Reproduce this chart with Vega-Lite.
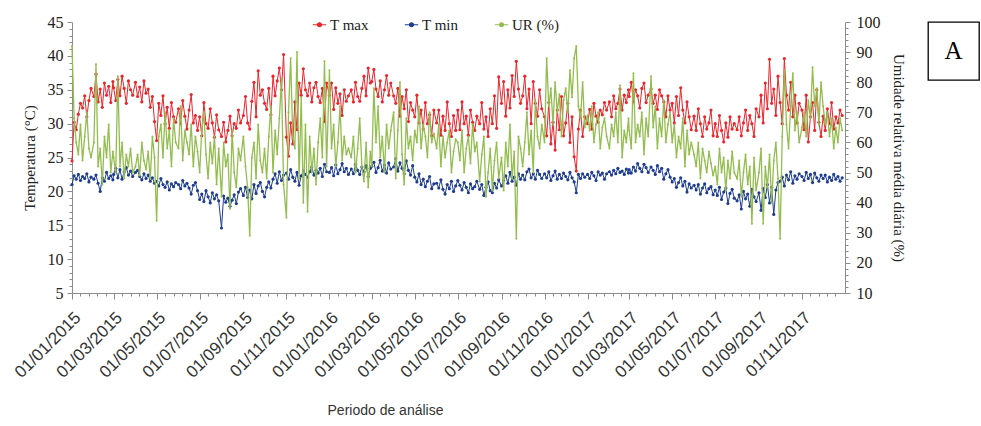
{
"$schema":"https://vega.github.io/schema/vega-lite/v6.json",
"background":"white",
"padding":{"left":11,"top":14,"right":0,"bottom":0},
"config":{"view":{"stroke":null},"axis":{"grid":false,"domainColor":"#8c8c8c","tickColor":"#8c8c8c","labelColor":"#222","titleColor":"#222","titleFontWeight":"normal"}},
"spacing":83,
"bounds":"flush",
"hconcat":[
{
"width":773,"height":271,
"data":{"values":[
{"d":"2015-01-01","tmax":24.5,"tmin":21.0,"ur":92},{"d":"2015-01-04","tmax":30.2,"tmin":22.3,"ur":68},{"d":"2015-01-07","tmax":29.1,"tmin":21.8,"ur":60},{"d":"2015-01-10","tmax":31.4,"tmin":22.5,"ur":56},{"d":"2015-01-13","tmax":33.0,"tmin":21.6,"ur":66},{"d":"2015-01-16","tmax":32.3,"tmin":22.2,"ur":54},{"d":"2015-01-19","tmax":34.1,"tmin":21.9,"ur":62},{"d":"2015-01-22","tmax":31.0,"tmin":22.6,"ur":70},{"d":"2015-01-25","tmax":33.4,"tmin":21.4,"ur":58},{"d":"2015-01-28","tmax":35.2,"tmin":22.1,"ur":55},
{"d":"2015-02-01","tmax":34.0,"tmin":21.8,"ur":60},{"d":"2015-02-04","tmax":37.3,"tmin":22.4,"ur":86},{"d":"2015-02-07","tmax":33.2,"tmin":21.2,"ur":52},{"d":"2015-02-10","tmax":35.1,"tmin":20.0,"ur":58},{"d":"2015-02-13","tmax":32.4,"tmin":22.0,"ur":46},{"d":"2015-02-16","tmax":36.0,"tmin":21.5,"ur":62},{"d":"2015-02-19","tmax":34.2,"tmin":22.8,"ur":55},{"d":"2015-02-22","tmax":35.5,"tmin":21.9,"ur":66},{"d":"2015-02-25","tmax":33.1,"tmin":22.3,"ur":50},{"d":"2015-02-28","tmax":36.2,"tmin":21.7,"ur":57},
{"d":"2015-03-01","tmax":35.3,"tmin":22.5,"ur":55},{"d":"2015-03-04","tmax":33.4,"tmin":23.4,"ur":50},{"d":"2015-03-07","tmax":36.5,"tmin":22.0,"ur":82},{"d":"2015-03-10","tmax":34.1,"tmin":23.2,"ur":52},{"d":"2015-03-13","tmax":37.0,"tmin":21.8,"ur":60},{"d":"2015-03-16","tmax":35.2,"tmin":22.9,"ur":48},{"d":"2015-03-19","tmax":33.0,"tmin":23.5,"ur":56},{"d":"2015-03-22","tmax":36.3,"tmin":22.4,"ur":52},{"d":"2015-03-25","tmax":35.0,"tmin":23.0,"ur":58},{"d":"2015-03-28","tmax":34.2,"tmin":22.2,"ur":50},
{"d":"2015-04-01","tmax":36.1,"tmin":22.8,"ur":52},{"d":"2015-04-04","tmax":34.0,"tmin":23.1,"ur":56},{"d":"2015-04-07","tmax":35.4,"tmin":22.2,"ur":49},{"d":"2015-04-10","tmax":33.2,"tmin":21.7,"ur":60},{"d":"2015-04-13","tmax":36.3,"tmin":22.6,"ur":54},{"d":"2015-04-16","tmax":34.5,"tmin":21.9,"ur":51},{"d":"2015-04-19","tmax":35.1,"tmin":22.4,"ur":57},{"d":"2015-04-22","tmax":32.4,"tmin":21.5,"ur":48},{"d":"2015-04-25","tmax":34.0,"tmin":22.0,"ur":62},{"d":"2015-04-28","tmax":30.3,"tmin":21.2,"ur":55},
{"d":"2015-05-01","tmax":27.5,"tmin":21.5,"ur":34},{"d":"2015-05-04","tmax":33.0,"tmin":20.8,"ur":62},{"d":"2015-05-07","tmax":31.2,"tmin":21.9,"ur":66},{"d":"2015-05-10","tmax":34.1,"tmin":21.0,"ur":55},{"d":"2015-05-13","tmax":30.0,"tmin":20.6,"ur":70},{"d":"2015-05-16","tmax":32.4,"tmin":21.4,"ur":58},{"d":"2015-05-19","tmax":29.3,"tmin":20.2,"ur":64},{"d":"2015-05-22","tmax":33.1,"tmin":21.1,"ur":52},{"d":"2015-05-25","tmax":31.0,"tmin":20.7,"ur":68},{"d":"2015-05-28","tmax":30.2,"tmin":21.3,"ur":60},
{"d":"2015-06-01","tmax":32.2,"tmin":21.0,"ur":58},{"d":"2015-06-04","tmax":30.0,"tmin":20.4,"ur":72},{"d":"2015-06-07","tmax":33.4,"tmin":21.6,"ur":54},{"d":"2015-06-10","tmax":31.1,"tmin":20.8,"ur":64},{"d":"2015-06-13","tmax":29.2,"tmin":21.2,"ur":60},{"d":"2015-06-16","tmax":32.0,"tmin":20.5,"ur":56},{"d":"2015-06-19","tmax":34.3,"tmin":19.6,"ur":66},{"d":"2015-06-22","tmax":30.1,"tmin":20.9,"ur":52},{"d":"2015-06-25","tmax":31.2,"tmin":21.3,"ur":62},{"d":"2015-06-28","tmax":29.0,"tmin":20.1,"ur":57},
{"d":"2015-07-01","tmax":31.0,"tmin":18.8,"ur":50},{"d":"2015-07-04","tmax":28.2,"tmin":19.6,"ur":64},{"d":"2015-07-07","tmax":33.1,"tmin":18.5,"ur":70},{"d":"2015-07-10","tmax":30.0,"tmin":20.1,"ur":56},{"d":"2015-07-13","tmax":29.3,"tmin":19.2,"ur":48},{"d":"2015-07-16","tmax":32.2,"tmin":18.3,"ur":60},{"d":"2015-07-19","tmax":30.1,"tmin":19.8,"ur":53},{"d":"2015-07-22","tmax":28.0,"tmin":18.9,"ur":62},{"d":"2015-07-25","tmax":31.3,"tmin":19.5,"ur":46},{"d":"2015-07-28","tmax":29.1,"tmin":18.6,"ur":58},
{"d":"2015-08-01","tmax":28.1,"tmin":14.6,"ur":42},{"d":"2015-08-04","tmax":30.2,"tmin":19.3,"ur":60},{"d":"2015-08-07","tmax":27.3,"tmin":18.4,"ur":52},{"d":"2015-08-10","tmax":29.0,"tmin":19.0,"ur":56},{"d":"2015-08-13","tmax":31.1,"tmin":17.8,"ur":38},{"d":"2015-08-16","tmax":28.2,"tmin":18.7,"ur":64},{"d":"2015-08-19","tmax":30.0,"tmin":19.5,"ur":50},{"d":"2015-08-22","tmax":29.3,"tmin":18.2,"ur":45},{"d":"2015-08-25","tmax":32.0,"tmin":19.9,"ur":58},{"d":"2015-08-28","tmax":30.1,"tmin":20.4,"ur":54},
{"d":"2015-09-01","tmax":31.2,"tmin":19.4,"ur":62},{"d":"2015-09-04","tmax":34.0,"tmin":20.6,"ur":52},{"d":"2015-09-07","tmax":30.1,"tmin":19.1,"ur":45},{"d":"2015-09-10","tmax":29.2,"tmin":20.2,"ur":29},{"d":"2015-09-13","tmax":33.3,"tmin":18.9,"ur":55},{"d":"2015-09-16","tmax":36.1,"tmin":21.0,"ur":60},{"d":"2015-09-19","tmax":31.0,"tmin":19.7,"ur":48},{"d":"2015-09-22","tmax":37.8,"tmin":20.8,"ur":66},{"d":"2015-09-25","tmax":34.2,"tmin":21.3,"ur":54},{"d":"2015-09-28","tmax":35.0,"tmin":20.0,"ur":50},
{"d":"2015-10-01","tmax":33.0,"tmin":19.2,"ur":58},{"d":"2015-10-04","tmax":32.1,"tmin":20.6,"ur":48},{"d":"2015-10-07","tmax":35.2,"tmin":21.4,"ur":62},{"d":"2015-10-10","tmax":31.3,"tmin":20.5,"ur":72},{"d":"2015-10-13","tmax":37.0,"tmin":21.8,"ur":50},{"d":"2015-10-16","tmax":34.1,"tmin":22.6,"ur":64},{"d":"2015-10-19","tmax":36.3,"tmin":21.2,"ur":56},{"d":"2015-10-22","tmax":38.2,"tmin":22.9,"ur":68},{"d":"2015-10-25","tmax":35.0,"tmin":21.6,"ur":81},{"d":"2015-10-28","tmax":40.2,"tmin":22.4,"ur":46},
{"d":"2015-11-01","tmax":28.0,"tmin":22.7,"ur":35},{"d":"2015-11-04","tmax":25.2,"tmin":21.8,"ur":70},{"d":"2015-11-07","tmax":30.1,"tmin":23.2,"ur":88},{"d":"2015-11-10","tmax":27.0,"tmin":22.1,"ur":62},{"d":"2015-11-13","tmax":33.2,"tmin":21.5,"ur":58},{"d":"2015-11-16","tmax":29.1,"tmin":22.8,"ur":90},{"d":"2015-11-19","tmax":36.0,"tmin":20.9,"ur":48},{"d":"2015-11-22","tmax":34.2,"tmin":22.3,"ur":75},{"d":"2015-11-25","tmax":38.1,"tmin":23.0,"ur":40},{"d":"2015-11-28","tmax":35.0,"tmin":22.5,"ur":66},
{"d":"2015-12-01","tmax":34.1,"tmin":22.1,"ur":37},{"d":"2015-12-04","tmax":36.0,"tmin":22.9,"ur":62},{"d":"2015-12-07","tmax":33.2,"tmin":23.6,"ur":50},{"d":"2015-12-10","tmax":35.3,"tmin":22.4,"ur":58},{"d":"2015-12-13","tmax":36.1,"tmin":23.1,"ur":46},{"d":"2015-12-16","tmax":34.0,"tmin":22.7,"ur":60},{"d":"2015-12-19","tmax":33.1,"tmin":23.4,"ur":68},{"d":"2015-12-22","tmax":35.2,"tmin":22.2,"ur":55},{"d":"2015-12-25","tmax":30.3,"tmin":24.0,"ur":87},{"d":"2015-12-28","tmax":36.0,"tmin":22.9,"ur":52},
{"d":"2016-01-01","tmax":34.2,"tmin":22.8,"ur":84},{"d":"2016-01-04","tmax":36.0,"tmin":23.5,"ur":58},{"d":"2016-01-07","tmax":32.1,"tmin":22.3,"ur":66},{"d":"2016-01-10","tmax":35.3,"tmin":23.9,"ur":52},{"d":"2016-01-13","tmax":33.0,"tmin":22.6,"ur":60},{"d":"2016-01-16","tmax":34.4,"tmin":23.2,"ur":72},{"d":"2016-01-19","tmax":31.2,"tmin":24.1,"ur":54},{"d":"2016-01-22","tmax":35.0,"tmin":22.9,"ur":62},{"d":"2016-01-25","tmax":33.3,"tmin":23.4,"ur":56},{"d":"2016-01-28","tmax":34.1,"tmin":22.5,"ur":58},
{"d":"2016-02-01","tmax":35.0,"tmin":23.3,"ur":55},{"d":"2016-02-04","tmax":33.2,"tmin":22.6,"ur":62},{"d":"2016-02-07","tmax":36.1,"tmin":24.0,"ur":50},{"d":"2016-02-10","tmax":34.0,"tmin":23.1,"ur":58},{"d":"2016-02-13","tmax":33.3,"tmin":22.5,"ur":68},{"d":"2016-02-16","tmax":35.2,"tmin":23.6,"ur":52},{"d":"2016-02-19","tmax":37.0,"tmin":22.9,"ur":47},{"d":"2016-02-22","tmax":34.1,"tmin":23.8,"ur":60},{"d":"2016-02-25","tmax":38.2,"tmin":22.2,"ur":45},{"d":"2016-02-28","tmax":36.0,"tmin":23.4,"ur":57},
{"d":"2016-03-01","tmax":36.2,"tmin":23.7,"ur":52},{"d":"2016-03-04","tmax":38.0,"tmin":24.3,"ur":78},{"d":"2016-03-07","tmax":35.1,"tmin":22.8,"ur":60},{"d":"2016-03-10","tmax":34.0,"tmin":23.5,"ur":72},{"d":"2016-03-13","tmax":36.3,"tmin":24.6,"ur":55},{"d":"2016-03-16","tmax":33.2,"tmin":23.0,"ur":62},{"d":"2016-03-19","tmax":35.0,"tmin":23.9,"ur":50},{"d":"2016-03-22","tmax":37.1,"tmin":22.7,"ur":66},{"d":"2016-03-25","tmax":34.2,"tmin":24.2,"ur":58},{"d":"2016-03-28","tmax":36.0,"tmin":23.3,"ur":64},
{"d":"2016-04-01","tmax":34.1,"tmin":23.6,"ur":70},{"d":"2016-04-04","tmax":33.0,"tmin":24.8,"ur":48},{"d":"2016-04-07","tmax":35.2,"tmin":23.0,"ur":64},{"d":"2016-04-10","tmax":31.1,"tmin":24.2,"ur":80},{"d":"2016-04-13","tmax":34.0,"tmin":23.4,"ur":56},{"d":"2016-04-16","tmax":32.2,"tmin":22.6,"ur":46},{"d":"2016-04-19","tmax":35.0,"tmin":24.5,"ur":68},{"d":"2016-04-22","tmax":30.3,"tmin":23.1,"ur":58},{"d":"2016-04-25","tmax":33.1,"tmin":22.4,"ur":62},{"d":"2016-04-28","tmax":32.0,"tmin":23.8,"ur":54},
{"d":"2016-05-01","tmax":31.0,"tmin":22.1,"ur":64},{"d":"2016-05-04","tmax":34.2,"tmin":21.4,"ur":60},{"d":"2016-05-07","tmax":30.1,"tmin":22.6,"ur":72},{"d":"2016-05-10","tmax":32.0,"tmin":21.0,"ur":58},{"d":"2016-05-13","tmax":29.2,"tmin":21.8,"ur":66},{"d":"2016-05-16","tmax":33.1,"tmin":20.7,"ur":62},{"d":"2016-05-19","tmax":30.0,"tmin":21.5,"ur":55},{"d":"2016-05-22","tmax":31.3,"tmin":22.2,"ur":70},{"d":"2016-05-25","tmax":28.2,"tmin":20.4,"ur":60},{"d":"2016-05-28","tmax":32.0,"tmin":21.1,"ur":63},
{"d":"2016-06-01","tmax":30.1,"tmin":21.2,"ur":58},{"d":"2016-06-04","tmax":32.0,"tmin":20.5,"ur":66},{"d":"2016-06-07","tmax":28.3,"tmin":21.7,"ur":52},{"d":"2016-06-10","tmax":31.1,"tmin":20.3,"ur":62},{"d":"2016-06-13","tmax":29.0,"tmin":19.6,"ur":55},{"d":"2016-06-16","tmax":33.2,"tmin":21.0,"ur":60},{"d":"2016-06-19","tmax":30.0,"tmin":20.4,"ur":64},{"d":"2016-06-22","tmax":28.1,"tmin":21.5,"ur":50},{"d":"2016-06-25","tmax":31.2,"tmin":20.0,"ur":57},{"d":"2016-06-28","tmax":29.0,"tmin":20.8,"ur":61},
{"d":"2016-07-01","tmax":32.0,"tmin":21.6,"ur":60},{"d":"2016-07-04","tmax":29.1,"tmin":20.9,"ur":54},{"d":"2016-07-07","tmax":33.2,"tmin":20.2,"ur":64},{"d":"2016-07-10","tmax":30.0,"tmin":21.3,"ur":50},{"d":"2016-07-13","tmax":31.1,"tmin":20.6,"ur":58},{"d":"2016-07-16","tmax":28.3,"tmin":19.8,"ur":62},{"d":"2016-07-19","tmax":32.0,"tmin":21.1,"ur":53},{"d":"2016-07-22","tmax":30.2,"tmin":20.4,"ur":66},{"d":"2016-07-25","tmax":29.0,"tmin":20.7,"ur":57},{"d":"2016-07-28","tmax":31.1,"tmin":21.5,"ur":60},
{"d":"2016-08-01","tmax":30.0,"tmin":20.3,"ur":47},{"d":"2016-08-04","tmax":33.1,"tmin":21.0,"ur":56},{"d":"2016-08-07","tmax":29.2,"tmin":19.4,"ur":62},{"d":"2016-08-10","tmax":31.0,"tmin":20.6,"ur":42},{"d":"2016-08-13","tmax":28.1,"tmin":21.4,"ur":50},{"d":"2016-08-16","tmax":32.2,"tmin":20.1,"ur":58},{"d":"2016-08-19","tmax":30.0,"tmin":19.8,"ur":44},{"d":"2016-08-22","tmax":34.1,"tmin":21.2,"ur":54},{"d":"2016-08-25","tmax":29.3,"tmin":20.5,"ur":60},{"d":"2016-08-28","tmax":36.9,"tmin":21.7,"ur":48},
{"d":"2016-09-01","tmax":33.0,"tmin":20.8,"ur":55},{"d":"2016-09-04","tmax":36.2,"tmin":21.6,"ur":44},{"d":"2016-09-07","tmax":31.1,"tmin":22.3,"ur":60},{"d":"2016-09-10","tmax":35.0,"tmin":21.2,"ur":52},{"d":"2016-09-13","tmax":32.3,"tmin":22.8,"ur":66},{"d":"2016-09-16","tmax":37.1,"tmin":21.5,"ur":48},{"d":"2016-09-19","tmax":34.0,"tmin":22.1,"ur":57},{"d":"2016-09-22","tmax":39.2,"tmin":20.9,"ur":28},{"d":"2016-09-25","tmax":35.1,"tmin":22.6,"ur":62},{"d":"2016-09-28","tmax":33.0,"tmin":21.8,"ur":58},
{"d":"2016-10-01","tmax":34.1,"tmin":22.4,"ur":52},{"d":"2016-10-04","tmax":37.0,"tmin":21.7,"ur":60},{"d":"2016-10-07","tmax":32.2,"tmin":22.9,"ur":70},{"d":"2016-10-10","tmax":35.1,"tmin":23.3,"ur":56},{"d":"2016-10-13","tmax":30.0,"tmin":22.0,"ur":64},{"d":"2016-10-16","tmax":36.2,"tmin":22.6,"ur":50},{"d":"2016-10-19","tmax":33.0,"tmin":21.8,"ur":74},{"d":"2016-10-22","tmax":31.1,"tmin":23.1,"ur":62},{"d":"2016-10-25","tmax":35.0,"tmin":22.5,"ur":58},{"d":"2016-10-28","tmax":32.2,"tmin":21.9,"ur":66},
{"d":"2016-11-01","tmax":31.0,"tmin":22.6,"ur":60},{"d":"2016-11-04","tmax":28.2,"tmin":22.0,"ur":88},{"d":"2016-11-07","tmax":33.1,"tmin":22.9,"ur":72},{"d":"2016-11-10","tmax":27.0,"tmin":21.6,"ur":78},{"d":"2016-11-13","tmax":30.2,"tmin":22.3,"ur":66},{"d":"2016-11-16","tmax":26.1,"tmin":23.0,"ur":80},{"d":"2016-11-19","tmax":32.0,"tmin":21.8,"ur":70},{"d":"2016-11-22","tmax":29.1,"tmin":22.5,"ur":76},{"d":"2016-11-25","tmax":34.0,"tmin":21.9,"ur":62},{"d":"2016-11-28","tmax":28.2,"tmin":22.7,"ur":74},
{"d":"2016-12-01","tmax":30.1,"tmin":22.2,"ur":78},{"d":"2016-12-04","tmax":33.0,"tmin":21.7,"ur":70},{"d":"2016-12-07","tmax":27.2,"tmin":22.8,"ur":84},{"d":"2016-12-10","tmax":31.0,"tmin":22.0,"ur":75},{"d":"2016-12-13","tmax":25.1,"tmin":21.4,"ur":88},{"d":"2016-12-16","tmax":23.0,"tmin":19.8,"ur":92},{"d":"2016-12-19","tmax":29.2,"tmin":22.5,"ur":72},{"d":"2016-12-22","tmax":32.0,"tmin":21.9,"ur":68},{"d":"2016-12-25","tmax":28.1,"tmin":22.6,"ur":80},{"d":"2016-12-28","tmax":31.0,"tmin":22.1,"ur":65},
{"d":"2017-01-01","tmax":30.0,"tmin":22.5,"ur":69},{"d":"2017-01-04","tmax":32.1,"tmin":21.9,"ur":64},{"d":"2017-01-07","tmax":29.2,"tmin":22.8,"ur":72},{"d":"2017-01-10","tmax":33.0,"tmin":22.3,"ur":60},{"d":"2017-01-13","tmax":31.1,"tmin":21.6,"ur":66},{"d":"2017-01-16","tmax":30.2,"tmin":22.9,"ur":70},{"d":"2017-01-19","tmax":32.0,"tmin":22.4,"ur":58},{"d":"2017-01-22","tmax":31.3,"tmin":22.7,"ur":65},{"d":"2017-01-25","tmax":33.1,"tmin":21.8,"ur":68},{"d":"2017-01-28","tmax":32.0,"tmin":22.6,"ur":62},
{"d":"2017-02-01","tmax":33.2,"tmin":22.9,"ur":58},{"d":"2017-02-04","tmax":31.0,"tmin":22.4,"ur":66},{"d":"2017-02-07","tmax":34.1,"tmin":23.1,"ur":62},{"d":"2017-02-10","tmax":32.2,"tmin":22.6,"ur":70},{"d":"2017-02-13","tmax":33.0,"tmin":23.4,"ur":60},{"d":"2017-02-16","tmax":35.1,"tmin":22.8,"ur":79},{"d":"2017-02-19","tmax":32.0,"tmin":23.0,"ur":55},{"d":"2017-02-22","tmax":34.2,"tmin":22.5,"ur":64},{"d":"2017-02-25","tmax":33.1,"tmin":23.3,"ur":60},{"d":"2017-02-28","tmax":35.0,"tmin":22.7,"ur":68},
{"d":"2017-03-01","tmax":34.0,"tmin":23.2,"ur":64},{"d":"2017-03-04","tmax":36.1,"tmin":22.7,"ur":58},{"d":"2017-03-07","tmax":33.2,"tmin":23.6,"ur":83},{"d":"2017-03-10","tmax":35.0,"tmin":23.0,"ur":60},{"d":"2017-03-13","tmax":34.1,"tmin":24.1,"ur":66},{"d":"2017-03-16","tmax":32.3,"tmin":23.4,"ur":62},{"d":"2017-03-19","tmax":35.2,"tmin":22.9,"ur":70},{"d":"2017-03-22","tmax":36.0,"tmin":24.0,"ur":56},{"d":"2017-03-25","tmax":33.1,"tmin":23.5,"ur":68},{"d":"2017-03-28","tmax":34.2,"tmin":22.8,"ur":62},
{"d":"2017-04-01","tmax":35.1,"tmin":23.6,"ur":82},{"d":"2017-04-04","tmax":33.0,"tmin":23.1,"ur":65},{"d":"2017-04-07","tmax":34.2,"tmin":22.5,"ur":72},{"d":"2017-04-10","tmax":32.1,"tmin":23.8,"ur":58},{"d":"2017-04-13","tmax":35.0,"tmin":22.9,"ur":68},{"d":"2017-04-16","tmax":34.1,"tmin":23.4,"ur":62},{"d":"2017-04-19","tmax":33.2,"tmin":21.8,"ur":74},{"d":"2017-04-22","tmax":31.0,"tmin":22.6,"ur":60},{"d":"2017-04-25","tmax":34.1,"tmin":23.2,"ur":66},{"d":"2017-04-28","tmax":32.0,"tmin":22.1,"ur":70},
{"d":"2017-05-01","tmax":33.0,"tmin":21.4,"ur":60},{"d":"2017-05-04","tmax":30.1,"tmin":21.9,"ur":66},{"d":"2017-05-07","tmax":34.0,"tmin":20.6,"ur":55},{"d":"2017-05-10","tmax":31.2,"tmin":21.3,"ur":62},{"d":"2017-05-13","tmax":35.3,"tmin":22.0,"ur":58},{"d":"2017-05-16","tmax":32.0,"tmin":20.8,"ur":68},{"d":"2017-05-19","tmax":30.1,"tmin":21.5,"ur":52},{"d":"2017-05-22","tmax":33.2,"tmin":19.9,"ur":64},{"d":"2017-05-25","tmax":31.0,"tmin":21.1,"ur":56},{"d":"2017-05-28","tmax":29.1,"tmin":20.5,"ur":60},
{"d":"2017-06-01","tmax":31.1,"tmin":20.9,"ur":56},{"d":"2017-06-04","tmax":29.0,"tmin":20.2,"ur":52},{"d":"2017-06-07","tmax":32.2,"tmin":21.0,"ur":60},{"d":"2017-06-10","tmax":30.0,"tmin":19.6,"ur":48},{"d":"2017-06-13","tmax":28.1,"tmin":20.5,"ur":58},{"d":"2017-06-16","tmax":31.0,"tmin":21.1,"ur":54},{"d":"2017-06-19","tmax":29.2,"tmin":19.8,"ur":50},{"d":"2017-06-22","tmax":30.1,"tmin":20.4,"ur":57},{"d":"2017-06-25","tmax":32.0,"tmin":20.7,"ur":53},{"d":"2017-06-28","tmax":28.2,"tmin":19.5,"ur":49},
{"d":"2017-07-01","tmax":30.0,"tmin":20.2,"ur":52},{"d":"2017-07-04","tmax":28.1,"tmin":19.4,"ur":46},{"d":"2017-07-07","tmax":31.2,"tmin":20.6,"ur":58},{"d":"2017-07-10","tmax":29.0,"tmin":18.8,"ur":50},{"d":"2017-07-13","tmax":27.3,"tmin":19.9,"ur":55},{"d":"2017-07-16","tmax":30.1,"tmin":20.5,"ur":44},{"d":"2017-07-19","tmax":28.0,"tmin":18.2,"ur":54},{"d":"2017-07-22","tmax":31.0,"tmin":19.7,"ur":48},{"d":"2017-07-25","tmax":29.2,"tmin":20.3,"ur":57},{"d":"2017-07-28","tmax":30.0,"tmin":19.0,"ur":50},
{"d":"2017-08-01","tmax":29.1,"tmin":18.6,"ur":48},{"d":"2017-08-04","tmax":31.0,"tmin":19.5,"ur":54},{"d":"2017-08-07","tmax":28.2,"tmin":17.4,"ur":42},{"d":"2017-08-10","tmax":30.1,"tmin":20.0,"ur":50},{"d":"2017-08-13","tmax":32.0,"tmin":18.9,"ur":56},{"d":"2017-08-16","tmax":29.0,"tmin":19.6,"ur":46},{"d":"2017-08-19","tmax":31.2,"tmin":17.8,"ur":52},{"d":"2017-08-22","tmax":30.0,"tmin":20.3,"ur":33},{"d":"2017-08-25","tmax":28.1,"tmin":19.2,"ur":55},{"d":"2017-08-28","tmax":32.2,"tmin":18.5,"ur":44},
{"d":"2017-09-01","tmax":31.0,"tmin":19.8,"ur":50},{"d":"2017-09-04","tmax":34.2,"tmin":17.2,"ur":58},{"d":"2017-09-07","tmax":30.1,"tmin":20.4,"ur":33},{"d":"2017-09-10","tmax":36.0,"tmin":19.1,"ur":52},{"d":"2017-09-13","tmax":32.2,"tmin":21.0,"ur":45},{"d":"2017-09-16","tmax":39.5,"tmin":18.3,"ur":56},{"d":"2017-09-19","tmax":33.0,"tmin":20.6,"ur":40},{"d":"2017-09-22","tmax":35.1,"tmin":16.6,"ur":54},{"d":"2017-09-25","tmax":31.2,"tmin":20.2,"ur":60},{"d":"2017-09-28","tmax":37.0,"tmin":21.3,"ur":48},
{"d":"2017-10-01","tmax":33.1,"tmin":21.5,"ur":28},{"d":"2017-10-04","tmax":30.0,"tmin":22.1,"ur":62},{"d":"2017-10-07","tmax":39.6,"tmin":20.8,"ur":84},{"d":"2017-10-10","tmax":34.2,"tmin":22.4,"ur":66},{"d":"2017-10-13","tmax":32.0,"tmin":21.7,"ur":58},{"d":"2017-10-16","tmax":36.1,"tmin":22.9,"ur":72},{"d":"2017-10-19","tmax":31.0,"tmin":21.2,"ur":83},{"d":"2017-10-22","tmax":34.2,"tmin":22.3,"ur":64},{"d":"2017-10-25","tmax":30.1,"tmin":21.8,"ur":70},{"d":"2017-10-28","tmax":33.0,"tmin":22.6,"ur":60},
{"d":"2017-11-01","tmax":32.0,"tmin":22.2,"ur":65},{"d":"2017-11-04","tmax":29.1,"tmin":21.6,"ur":70},{"d":"2017-11-07","tmax":34.2,"tmin":22.8,"ur":62},{"d":"2017-11-10","tmax":27.3,"tmin":21.9,"ur":74},{"d":"2017-11-13","tmax":31.0,"tmin":22.5,"ur":68},{"d":"2017-11-16","tmax":33.1,"tmin":21.3,"ur":85},{"d":"2017-11-19","tmax":29.0,"tmin":22.7,"ur":72},{"d":"2017-11-22","tmax":35.0,"tmin":22.0,"ur":78},{"d":"2017-11-25","tmax":30.2,"tmin":21.5,"ur":66},{"d":"2017-11-28","tmax":28.1,"tmin":22.4,"ur":80},
{"d":"2017-12-01","tmax":31.1,"tmin":21.9,"ur":72},{"d":"2017-12-04","tmax":29.0,"tmin":22.4,"ur":66},{"d":"2017-12-07","tmax":32.2,"tmin":21.4,"ur":70},{"d":"2017-12-10","tmax":30.0,"tmin":22.1,"ur":62},{"d":"2017-12-13","tmax":33.1,"tmin":21.6,"ur":68},{"d":"2017-12-16","tmax":29.2,"tmin":22.5,"ur":58},{"d":"2017-12-19","tmax":31.0,"tmin":21.8,"ur":65},{"d":"2017-12-22","tmax":30.1,"tmin":22.2,"ur":60},{"d":"2017-12-25","tmax":32.0,"tmin":21.5,"ur":68},{"d":"2017-12-28","tmax":31.2,"tmin":22.0,"ur":64}
]},
"encoding":{"x":{"field":"d","type":"temporal","scale":{"type":"utc","domain":[{"year":2015,"month":1,"date":1,"utc":true},{"year":2018,"month":1,"date":1,"utc":true}]},
"axis":{"values":[
{"year":2015,"month":1,"date":1,"utc":true},{"year":2015,"month":1,"date":13,"utc":true},{"year":2015,"month":1,"date":25,"utc":true},{"year":2015,"month":2,"date":6,"utc":true},{"year":2015,"month":2,"date":18,"utc":true},
{"year":2015,"month":3,"date":1,"utc":true},{"year":2015,"month":3,"date":13,"utc":true},{"year":2015,"month":3,"date":25,"utc":true},{"year":2015,"month":4,"date":6,"utc":true},{"year":2015,"month":4,"date":18,"utc":true},
{"year":2015,"month":5,"date":1,"utc":true},{"year":2015,"month":5,"date":13,"utc":true},{"year":2015,"month":5,"date":25,"utc":true},{"year":2015,"month":6,"date":6,"utc":true},{"year":2015,"month":6,"date":18,"utc":true},
{"year":2015,"month":7,"date":1,"utc":true},{"year":2015,"month":7,"date":13,"utc":true},{"year":2015,"month":7,"date":25,"utc":true},{"year":2015,"month":8,"date":6,"utc":true},{"year":2015,"month":8,"date":18,"utc":true},
{"year":2015,"month":9,"date":1,"utc":true},{"year":2015,"month":9,"date":13,"utc":true},{"year":2015,"month":9,"date":25,"utc":true},{"year":2015,"month":10,"date":6,"utc":true},{"year":2015,"month":10,"date":18,"utc":true},
{"year":2015,"month":11,"date":1,"utc":true},{"year":2015,"month":11,"date":13,"utc":true},{"year":2015,"month":11,"date":25,"utc":true},{"year":2015,"month":12,"date":6,"utc":true},{"year":2015,"month":12,"date":18,"utc":true},
{"year":2016,"month":1,"date":1,"utc":true},{"year":2016,"month":1,"date":13,"utc":true},{"year":2016,"month":1,"date":25,"utc":true},{"year":2016,"month":2,"date":6,"utc":true},{"year":2016,"month":2,"date":18,"utc":true},
{"year":2016,"month":3,"date":1,"utc":true},{"year":2016,"month":3,"date":13,"utc":true},{"year":2016,"month":3,"date":25,"utc":true},{"year":2016,"month":4,"date":6,"utc":true},{"year":2016,"month":4,"date":18,"utc":true},
{"year":2016,"month":5,"date":1,"utc":true},{"year":2016,"month":5,"date":13,"utc":true},{"year":2016,"month":5,"date":25,"utc":true},{"year":2016,"month":6,"date":6,"utc":true},{"year":2016,"month":6,"date":18,"utc":true},
{"year":2016,"month":7,"date":1,"utc":true},{"year":2016,"month":7,"date":13,"utc":true},{"year":2016,"month":7,"date":25,"utc":true},{"year":2016,"month":8,"date":6,"utc":true},{"year":2016,"month":8,"date":18,"utc":true},
{"year":2016,"month":9,"date":1,"utc":true},{"year":2016,"month":9,"date":13,"utc":true},{"year":2016,"month":9,"date":25,"utc":true},{"year":2016,"month":10,"date":6,"utc":true},{"year":2016,"month":10,"date":18,"utc":true},
{"year":2016,"month":11,"date":1,"utc":true},{"year":2016,"month":11,"date":13,"utc":true},{"year":2016,"month":11,"date":25,"utc":true},{"year":2016,"month":12,"date":6,"utc":true},{"year":2016,"month":12,"date":18,"utc":true},
{"year":2017,"month":1,"date":1,"utc":true},{"year":2017,"month":1,"date":13,"utc":true},{"year":2017,"month":1,"date":25,"utc":true},{"year":2017,"month":2,"date":6,"utc":true},{"year":2017,"month":2,"date":18,"utc":true},
{"year":2017,"month":3,"date":1,"utc":true},{"year":2017,"month":3,"date":13,"utc":true},{"year":2017,"month":3,"date":25,"utc":true},{"year":2017,"month":4,"date":6,"utc":true},{"year":2017,"month":4,"date":18,"utc":true},
{"year":2017,"month":5,"date":1,"utc":true},{"year":2017,"month":5,"date":13,"utc":true},{"year":2017,"month":5,"date":25,"utc":true},{"year":2017,"month":6,"date":6,"utc":true},{"year":2017,"month":6,"date":18,"utc":true},
{"year":2017,"month":7,"date":1,"utc":true},{"year":2017,"month":7,"date":13,"utc":true},{"year":2017,"month":7,"date":25,"utc":true},{"year":2017,"month":8,"date":6,"utc":true},{"year":2017,"month":8,"date":18,"utc":true},
{"year":2017,"month":9,"date":1,"utc":true},{"year":2017,"month":9,"date":13,"utc":true},{"year":2017,"month":9,"date":25,"utc":true},{"year":2017,"month":10,"date":6,"utc":true},{"year":2017,"month":10,"date":18,"utc":true},
{"year":2017,"month":11,"date":1,"utc":true},{"year":2017,"month":11,"date":13,"utc":true},{"year":2017,"month":11,"date":25,"utc":true},{"year":2017,"month":12,"date":6,"utc":true},{"year":2017,"month":12,"date":18,"utc":true}],
"format":"%d/%m/%Y","labelExpr":"(utcdate(datum.value)==1 && utcmonth(datum.value)%2==0) ? datum.label : ''",
"tickSize":{"condition":{"test":"utcdate(datum.value)==1 && utcmonth(datum.value)%2==0","value":6},"value":3},
"labelAngle":-45,"labelFont":"Liberation Sans","labelFontSize":17,"labelColor":"#333","labelPadding":10,"labelOverlap":false,"labelBound":false,
"title":"Periodo de análise","titleFont":"Liberation Sans","titleFontSize":14,"titleColor":"#333","titleX":313,"titleY":110}}},
"layer":[
{"mark":{"type":"line","strokeWidth":1,"point":{"filled":true,"size":10}},
"encoding":{"y":{"field":"tmax","type":"quantitative","scale":{"domain":[5,45]},
"axis":{"orient":"left","values":[5,6,7,8,9,10,11,12,13,14,15,16,17,18,19,20,21,22,23,24,25,26,27,28,29,30,31,32,33,34,35,36,37,38,39,40,41,42,43,44,45],
"labelExpr":"datum.value%5==0 ? datum.label : ''","tickSize":{"condition":{"test":"datum.value%5==0","value":5},"value":3},
"title":"Temperatura (°C)","labelFont":"Liberation Serif","labelFontSize":16,"titleFont":"Liberation Serif","titleFontSize":15,"labelPadding":4,"titlePadding":10}},
"color":{"datum":"T max","type":"nominal","scale":{"domain":["T max","T min","UR (%)"],"range":["#e8262b","#1f3d8f","#93bd4f"]},
"legend":{"orient":"none","legendX":240,"legendY":-5,"direction":"horizontal","title":null,"labelFont":"Liberation Serif","labelFontSize":15,"labelColor":"#222","symbolType":"M-1,0L1,0M-0.3,0A0.3,0.3 0 1,1 0.3,0A0.3,0.3 0 1,1 -0.3,0","symbolSize":180,"symbolStrokeWidth":1.2,"columnPadding":33,"labelOffset":3}}}},
{"mark":{"type":"line","strokeWidth":1,"point":{"filled":true,"size":10}},
"encoding":{"y":{"field":"tmin","type":"quantitative","scale":{"domain":[5,45]},"axis":null},
"color":{"datum":"T min","type":"nominal"}}},
{"mark":{"type":"line","strokeWidth":1.3,"point":{"filled":true,"size":4}},
"encoding":{"y":{"field":"ur","type":"quantitative","scale":{"domain":[10,100]},
"axis":{"orient":"right","values":[10,12,14,16,18,20,22,24,26,28,30,32,34,36,38,40,42,44,46,48,50,52,54,56,58,60,62,64,66,68,70,72,74,76,78,80,82,84,86,88,90,92,94,96,98,100],
"labelExpr":"datum.value%10==0 ? datum.label : ''","tickSize":{"condition":{"test":"datum.value%10==0","value":5},"value":3},
"title":"Umidade relativa média diária (%)","labelFont":"Liberation Serif","labelFontSize":16,"titleFont":"Liberation Serif","titleFontSize":15,"labelPadding":6,"titlePadding":10}},
"color":{"datum":"UR (%)","type":"nominal"}}}
],
"resolve":{"scale":{"y":"independent"}}
},
{"width":51,"height":58,"view":{"stroke":"#000","strokeWidth":1.3},
"data":{"values":[{"t":"A"}]},
"mark":{"type":"text","font":"Liberation Serif","fontSize":25,"color":"#000"},
"encoding":{"text":{"field":"t","type":"nominal"}}}
]
}
